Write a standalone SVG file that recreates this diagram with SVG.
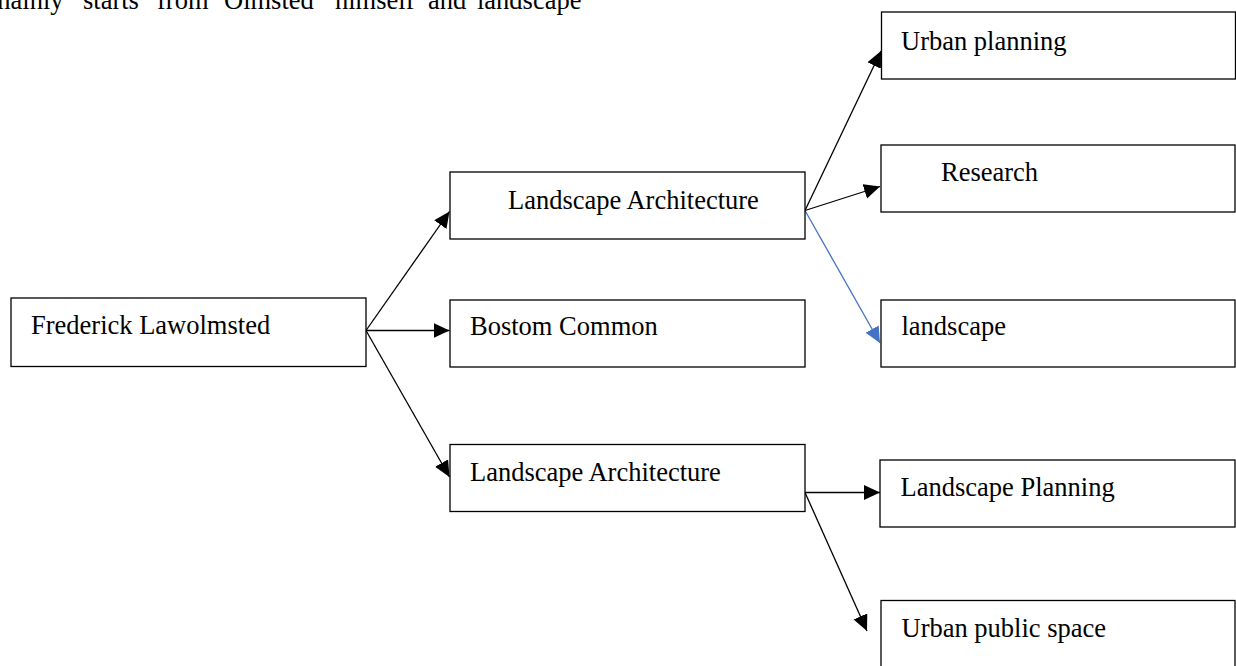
<svg xmlns="http://www.w3.org/2000/svg" width="1236" height="666" viewBox="0 0 1236 666">
<style>
  .box { fill: #ffffff; stroke: #000000; stroke-width: 1.3; }
  .lbl { font-family: "Liberation Serif", "Times New Roman", serif; font-size: 26.5px; fill: #000000; }
  .conn { stroke: #000000; stroke-width: 1.3; fill: none; marker-end: url(#ah); }
  .conn-blue { stroke: #4472C4; stroke-width: 1.3; fill: none; marker-end: url(#ahb); }
</style>
<defs>
  <marker id="ah" markerUnits="userSpaceOnUse" markerWidth="18" markerHeight="16" refX="16" refY="7.5" orient="auto">
    <path d="M0,0 L16,7.5 L0,15 Z" fill="#000000"/>
  </marker>
  <marker id="ahb" markerUnits="userSpaceOnUse" markerWidth="18" markerHeight="16" refX="16" refY="7.5" orient="auto">
    <path d="M0,0 L16,7.5 L0,15 Z" fill="#4472C4"/>
  </marker>
</defs>
<rect width="1236" height="666" fill="#ffffff"/>
<text class="lbl" y="9"><tspan x="-10">mainly</tspan><tspan x="83">starts</tspan><tspan x="157">from</tspan><tspan x="224">Olmsted</tspan><tspan x="335">himself</tspan><tspan x="428">and</tspan><tspan x="477">landscape</tspan></text>
<g id="connectors">
  <line class="conn" x1="366" y1="330.5" x2="449.5" y2="211.5"/>
  <line class="conn" x1="366" y1="330.5" x2="449.5" y2="330.5"/>
  <line class="conn" x1="366" y1="330.5" x2="449.5" y2="477"/>
  <line class="conn" x1="805" y1="210.5" x2="881" y2="51"/>
  <line class="conn" x1="805" y1="210.5" x2="880" y2="186.5"/>
  <line class="conn-blue" x1="805" y1="210.5" x2="880" y2="343"/>
  <line class="conn" x1="805" y1="492.5" x2="880" y2="492.5"/>
  <line class="conn" x1="805" y1="492.5" x2="867" y2="631"/>
</g>
<g id="node-frederick">
  <rect class="box" x="11" y="298" width="355" height="68.5"/>
  <text class="lbl" x="31" y="334">Frederick Lawolmsted</text>
</g>
<g id="node-la-top">
  <rect class="box" x="450" y="172" width="355" height="67"/>
  <text class="lbl" x="508" y="208.5">Landscape Architecture</text>
</g>
<g id="node-bostom">
  <rect class="box" x="450" y="300" width="355" height="67"/>
  <text class="lbl" x="470" y="335">Bostom Common</text>
</g>
<g id="node-la-bottom">
  <rect class="box" x="450" y="444.5" width="355" height="67"/>
  <text class="lbl" x="470" y="480.5">Landscape Architecture</text>
</g>
<g id="node-urban-planning">
  <rect class="box" x="881.5" y="12" width="354" height="67"/>
  <text class="lbl" x="901" y="50">Urban planning</text>
</g>
<g id="node-research">
  <rect class="box" x="881" y="145" width="354" height="67"/>
  <text class="lbl" x="941" y="180.5">Research</text>
</g>
<g id="node-landscape">
  <rect class="box" x="881" y="300" width="354" height="67"/>
  <text class="lbl" x="901.5" y="335">landscape</text>
</g>
<g id="node-landscape-planning">
  <rect class="box" x="880" y="460" width="355" height="67"/>
  <text class="lbl" x="900.5" y="496">Landscape Planning</text>
</g>
<g id="node-urban-public-space">
  <rect class="box" x="881" y="600.5" width="354" height="80"/>
  <text class="lbl" x="901.5" y="636.5">Urban public space</text>
</g>
</svg>
